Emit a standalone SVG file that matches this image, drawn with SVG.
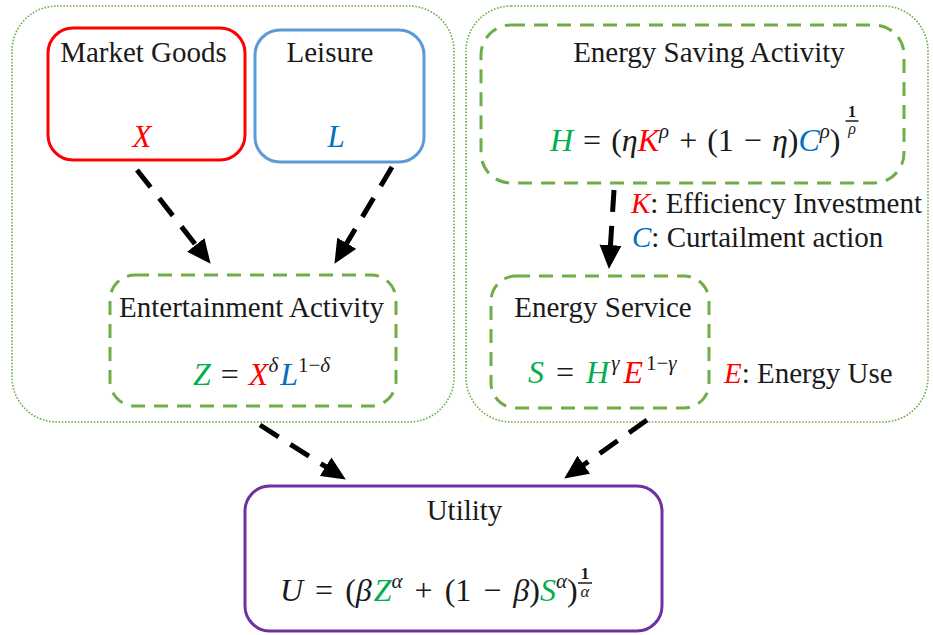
<svg xmlns="http://www.w3.org/2000/svg" width="933" height="635" viewBox="0 0 933 635">
<style>
.outer{fill:none;stroke:#70AD47;stroke-width:1.6;stroke-dasharray:1.6 1.6}
.act{fill:none;stroke:#70AD47;stroke-width:3;stroke-dasharray:14 9}
.t{font-family:"Liberation Serif","Times New Roman",serif;font-size:29px;fill:#1a1a1a}
.m{font-family:"Liberation Serif","Times New Roman",serif;font-size:32px;fill:#1a1a1a;word-spacing:2px}
.f{font-family:"Liberation Serif","Times New Roman",serif;font-size:16px;fill:#1a1a1a}
.i{font-style:italic}
.s{font-size:21px}
.g{fill:#00B050}
.r{fill:#FF0000}
.b{fill:#0070C0}
.arr{fill:none;stroke:#000;stroke-width:5;stroke-dasharray:22 14}
</style>
<defs>
<marker id="ah" markerUnits="userSpaceOnUse" markerWidth="24" markerHeight="22" viewBox="0 0 24 22" refX="1" refY="11" orient="auto"><path d="M0,0 L24,11 L0,22 z" fill="#000"/></marker>
</defs>
<g id="household-left">
<rect class="outer" x="12" y="6" width="442" height="416" rx="45" ry="45"/>
</g>
<g id="household-right">
<rect class="outer" x="466" y="6" width="462" height="416" rx="45" ry="45"/>
</g>
<g id="market-goods">
<rect x="48" y="28" width="197" height="132" rx="25" ry="25" fill="none" stroke="#FF0000" stroke-width="3"/>
<text class="t" x="143.5" y="62" text-anchor="middle">Market Goods</text>
<text class="t i r" x="142" y="147" text-anchor="middle" style="font-size:31px">X</text>
</g>
<g id="leisure">
<rect x="255" y="30" width="169" height="132" rx="25" ry="25" fill="none" stroke="#5B9BD5" stroke-width="3"/>
<text class="t" x="330" y="62" text-anchor="middle">Leisure</text>
<text class="t i b" x="336" y="147" text-anchor="middle" style="font-size:31px">L</text>
</g>
<g id="energy-saving">
<rect class="act" x="481" y="25" width="423" height="158" rx="30" ry="30"/>
<text class="t" x="709" y="62" text-anchor="middle">Energy Saving Activity</text>
<text class="m" x="550" y="151"><tspan class="i g">H</tspan><tspan> = (</tspan><tspan class="i">η</tspan><tspan class="i r">K</tspan><tspan class="i s" dy="-13">ρ</tspan><tspan dy="13"> + (1 − </tspan><tspan class="i">η</tspan><tspan>)</tspan><tspan class="i b">C</tspan><tspan class="i s" dy="-13">ρ</tspan><tspan dy="13">)</tspan></text>
<text class="f" x="852" y="117" text-anchor="middle" font-weight="bold">1</text>
<line x1="845.5" y1="121" x2="858.5" y2="121" stroke="#1a1a1a" stroke-width="1.5"/>
<text class="f i" x="852" y="134" text-anchor="middle">ρ</text>
</g>
<g id="legend-kc">
<text class="t" y="213"><tspan x="631" class="i r">K</tspan><tspan>: Efficiency Investment</tspan></text>
<text class="t" y="247"><tspan x="632" class="i b">C</tspan><tspan>: Curtailment action</tspan></text>
</g>
<g id="entertainment">
<rect class="act" x="110" y="275" width="286" height="131" rx="25" ry="25"/>
<text class="t" x="251.5" y="317" text-anchor="middle">Entertainment Activity</text>
<text class="m" x="193" y="385"><tspan class="i g">Z</tspan><tspan> = </tspan><tspan class="i r">X</tspan><tspan class="i s" dy="-13">δ</tspan><tspan class="i b" dy="13" dx="2">L</tspan><tspan class="s" dy="-13">1−</tspan><tspan class="s i">δ</tspan></text>
</g>
<g id="energy-service">
<rect class="act" x="491" y="276" width="218" height="132" rx="25" ry="25"/>
<text class="t" x="603" y="317" text-anchor="middle">Energy Service</text>
<text class="m" x="528" y="383" style="word-spacing:4px"><tspan class="i g">S</tspan><tspan> = </tspan><tspan class="i g">H</tspan><tspan class="i s" dy="-13" dx="2">γ</tspan><tspan class="i r" dy="13" dx="4">E</tspan><tspan class="s" dy="-13" dx="3">1−</tspan><tspan class="s i">γ</tspan></text>
</g>
<g id="legend-e">
<text class="t" y="383"><tspan x="724" class="i r">E</tspan><tspan>: Energy Use</tspan></text>
</g>
<g id="utility">
<rect x="245" y="486" width="417" height="145" rx="25" ry="25" fill="none" stroke="#7030A0" stroke-width="3"/>
<text class="t" x="464.5" y="520" text-anchor="middle">Utility</text>
<text class="m" x="280" y="601" style="word-spacing:4px"><tspan class="i">U</tspan><tspan> = (</tspan><tspan class="i">β</tspan><tspan class="i g" dx="2">Z</tspan><tspan class="i s" dy="-13">α</tspan><tspan dy="13"> + (1 − </tspan><tspan class="i">β</tspan><tspan>)</tspan><tspan class="i g">S</tspan><tspan class="i s" dy="-13">α</tspan><tspan dy="13">)</tspan></text>
<text class="f" x="585" y="579" text-anchor="middle" font-weight="bold" style="font-size:17px">1</text>
<line x1="578" y1="583" x2="592" y2="583" stroke="#1a1a1a" stroke-width="1.5"/>
<text class="f i" x="585" y="597" text-anchor="middle" style="font-size:17px">α</text>
</g>
<g id="connectors">
<line class="arr" x1="137" y1="170" x2="196.4" y2="245.7" marker-end="url(#ah)"/>
<line class="arr" x1="392" y1="167" x2="346.2" y2="244.1" marker-end="url(#ah)"/>
<line class="arr" x1="614" y1="190" x2="610.4" y2="246.1" marker-end="url(#ah)"/>
<line class="arr" x1="260" y1="425" x2="326.4" y2="467.2" marker-end="url(#ah)"/>
<line class="arr" x1="647" y1="420" x2="583" y2="465.3" marker-end="url(#ah)"/>
</g>
</svg>
